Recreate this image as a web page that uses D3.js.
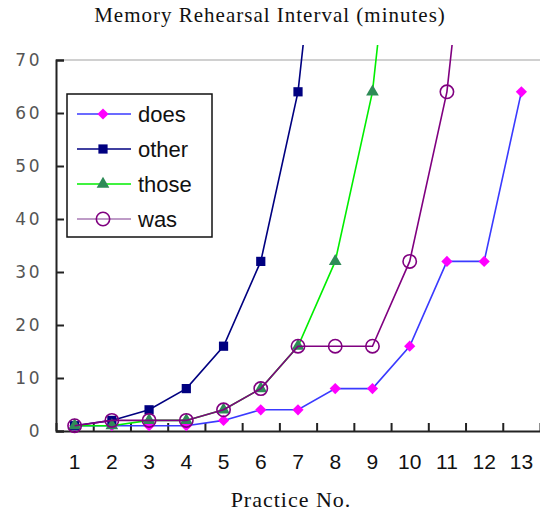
<!DOCTYPE html>
<html>
<head>
<meta charset="utf-8">
<script src="https://cdn.jsdelivr.net/npm/d3@7"></script>
<style>
    body { margin: 0; background: #fff; }
    svg { display: block; }
</style>
</head>
<body>
<div id="chart"></div>
<script>
var practice = [1, 2, 3, 4, 5, 6, 7, 8, 9, 10, 11, 12, 13];
var yTicks = [0, 10, 20, 30, 40, 50, 60, 70];

// values, points past 70 run off the top
var does = [1, 1, 1, 1, 2, 4, 4, 8, 8, 16, 32, 32, 64];
var other = [1, 2, 4, 8, 16, 32, 64, 128];
var those = [1, 1, 2, 2, 4, 8, 16, 32, 64, 128];
var was = [1, 2, 2, 2, 4, 8, 16, 16, 16, 32, 64, 128];

var seriesNames = ['does', 'other', 'those', 'was'];
var seriesValues = [does, other, those, was];

var styles = {
    does: {line: '#3a3aff', legendLine: '#3a3aff', fill: '#ff00ff', stroke: 'none', symbol: d3.symbolDiamond2, size: 80},
    other: {line: '#000080', legendLine: '#000080', fill: '#000080', stroke: 'none', symbol: d3.symbolSquare, size: 85},
    those: {line: '#00ee00', legendLine: '#00ee00', fill: '#2e8b57', stroke: 'none', symbol: d3.symbolTriangle, size: 70},
    was: {line: '#800080', legendLine: '#a87ab4', fill: 'none', stroke: '#800080', symbol: d3.symbolCircle, size: 140}
};

var width = 540, height = 514;
var margin = {left: 56, right: 0, top: 60, bottom: 83};

var svg = d3.select('#chart').append('svg')
    .attr('width', width)
    .attr('height', height);

var x = d3.scaleLinear()
    .domain([0.5, practice.length + 0.5])
    .range([margin.left, width - margin.right]);

var y = d3.scaleLinear()
    .domain([0, 70])
    .range([height - margin.bottom, margin.top]);

svg.append('defs').append('clipPath')
    .attr('id', 'plotClip')
    .append('rect')
    .attr('x', margin.left - 10)
    .attr('y', 45)
    .attr('width', width)
    .attr('height', height);

// top frame line
svg.append('line')
    .attr('x1', margin.left).attr('x2', width)
    .attr('y1', y(70)).attr('y2', y(70))
    .attr('stroke', '#c0c0c0')
    .attr('stroke-width', 1.5);

// y axis, ticks point inward
var yAxis = svg.append('g')
    .attr('transform', 'translate(' + margin.left + ',0)')
    .call(d3.axisRight(y).tickValues(yTicks).tickSize(8).tickFormat(''));
yAxis.select('.domain').attr('stroke', '#222').attr('stroke-width', 2);
yAxis.selectAll('.tick line').attr('stroke', '#222').attr('stroke-width', 2);

svg.append('g').selectAll('text')
    .data(yTicks)
    .enter().append('text')
    .attr('x', 42)
    .attr('y', d => y(d) + 6)
    .attr('text-anchor', 'end')
    .attr('font-family', 'DejaVu Sans, sans-serif')
    .attr('font-size', 17)
    .attr('letter-spacing', 2.5)
    .attr('fill', '#555')
    .text(d => d);

// x axis, tick marks sit between categories
var xBounds = d3.range(0.5, practice.length + 1, 1);
var xAxis = svg.append('g')
    .attr('transform', 'translate(0,' + y(0) + ')')
    .call(d3.axisTop(x).tickValues(xBounds).tickSize(8).tickSizeOuter(0).tickFormat(''));
xAxis.select('.domain').attr('stroke', '#222').attr('stroke-width', 2);
xAxis.selectAll('.tick line').attr('stroke', '#222').attr('stroke-width', 2);

svg.append('g').selectAll('text')
    .data(practice)
    .enter().append('text')
    .attr('x', d => x(d))
    .attr('y', 469)
    .attr('text-anchor', 'middle')
    .attr('font-family', 'Liberation Sans, Arial, sans-serif')
    .attr('font-size', 21)
    .attr('fill', '#111')
    .text(d => d);

// series
var line = d3.line()
    .x((d, i) => x(practice[i]))
    .y(d => y(d));

var plot = svg.append('g').attr('clip-path', 'url(#plotClip)');

seriesNames.forEach(function (name, k) {
    var st = styles[name];
    var values = seriesValues[k];
    var g = plot.append('g').attr('class', 'series ' + name);

    g.append('path')
        .attr('d', line(values))
        .attr('fill', 'none')
        .attr('stroke', st.line)
        .attr('stroke-width', 1.6);

    g.selectAll('path.marker')
        .data(values.map((v, i) => [practice[i], v]).filter(d => d[1] <= 70))
        .enter().append('path')
        .attr('class', 'marker')
        .attr('transform', d => 'translate(' + x(d[0]) + ',' + y(d[1]) + ')')
        .attr('d', d3.symbol().type(st.symbol).size(st.size))
        .attr('fill', st.fill)
        .attr('stroke', st.stroke)
        .attr('stroke-width', 1.6);
});

// legend
var legend = svg.append('g');
legend.append('rect')
    .attr('x', 67).attr('y', 94)
    .attr('width', 145).attr('height', 143)
    .attr('fill', '#fff')
    .attr('stroke', '#111')
    .attr('stroke-width', 1.5);

var legendItems = legend.selectAll('g.item')
    .data(seriesNames)
    .enter().append('g')
    .attr('class', 'item')
    .attr('transform', (d, i) => 'translate(77,' + (114 + i * 35) + ')');

legendItems.append('line')
    .attr('x1', 0).attr('x2', 54)
    .attr('stroke', d => styles[d].legendLine)
    .attr('stroke-width', 1.6);

legendItems.append('path')
    .attr('transform', 'translate(26,0)')
    .attr('d', d => d3.symbol().type(styles[d].symbol).size(styles[d].size)())
    .attr('fill', d => styles[d].fill)
    .attr('stroke', d => styles[d].stroke)
    .attr('stroke-width', 1.6);

legendItems.append('text')
    .attr('x', 61)
    .attr('y', 8)
    .attr('font-family', 'Liberation Sans, Arial, sans-serif')
    .attr('font-size', 22)
    .attr('fill', '#111')
    .text(d => d);

// titles
svg.append('text')
    .attr('x', 270)
    .attr('y', 22)
    .attr('text-anchor', 'middle')
    .attr('font-family', 'Liberation Serif, Times New Roman, serif')
    .attr('font-size', 21)
    .attr('letter-spacing', 1)
    .attr('fill', '#111')
    .text('Memory Rehearsal Interval (minutes)');

svg.append('text')
    .attr('x', 291)
    .attr('y', 507)
    .attr('text-anchor', 'middle')
    .attr('font-family', 'Liberation Serif, Times New Roman, serif')
    .attr('font-size', 22)
    .attr('letter-spacing', 1)
    .attr('fill', '#111')
    .text('Practice No.');
</script>
</body>
</html>
